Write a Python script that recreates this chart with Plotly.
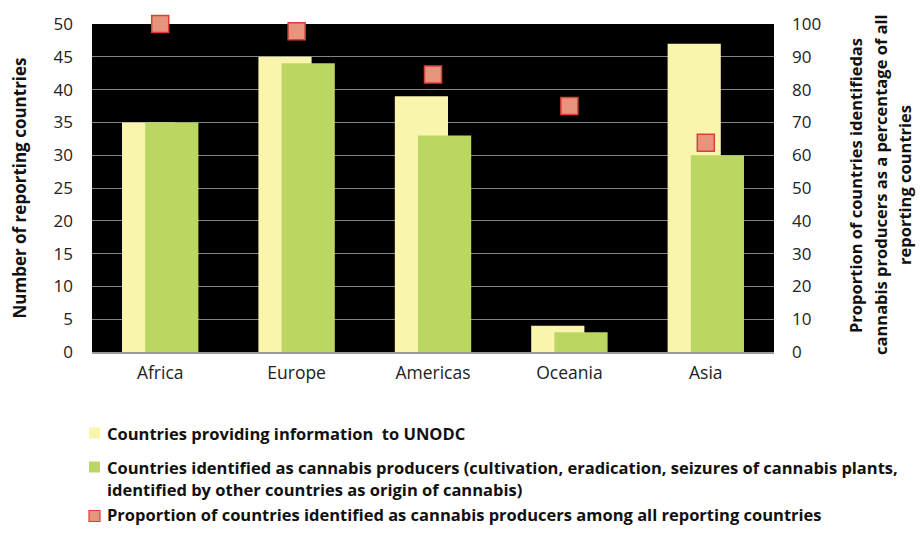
import plotly.graph_objects as go

regions = ["Africa", "Europe", "Americas", "Oceania", "Asia"]
reporting = [35, 45, 39, 4, 47]
producers = [35, 44, 33, 3, 30]
proportion = [100, 97.8, 84.6, 75, 63.8]

legend_labels = [
    ["Countries providing information  to UNODC"],
    ["Countries identified as cannabis producers (cultivation, eradication, seizures of cannabis plants,",
     "identified by other countries as origin of cannabis)"],
    ["Proportion of countries identified as cannabis producers among all reporting countries"],
]
right_title_lines = [
    "Proportion of countries identifiedas",
    "cannabis producers as a percentage of all",
    "reporting countries",
]

FONT = "Open Sans, Noto Sans, sans-serif"
YELLOW = "#F9F5AD"
GREEN = "#BBD662"
SALMON = "#E6957C"
RED = "#DB3E3B"

# the page body has an 8px margin; work in screenshot pixels and convert
OFF = 8
W, H = 924 - 2 * OFF, 536 - 2 * OFF
L, R, T, B = 92 - OFF, 774 - OFF, 24 - OFF, 352 - OFF


def px(x):
    return (x - OFF - L) / (R - L)


def py(y):
    return (B - (y - OFF)) / (B - T)


fig = go.Figure()
fig.add_trace(go.Bar(
    x=regions, y=reporting, name=legend_labels[0][0],
    marker=dict(color=YELLOW, line=dict(width=0)),
    width=0.39, offset=-0.28,
))
fig.add_trace(go.Bar(
    x=regions, y=producers, name=" ".join(legend_labels[1]),
    marker=dict(color=GREEN, line=dict(width=0)),
    width=0.39, offset=-0.11,
))
fig.add_trace(go.Scatter(
    x=regions, y=proportion, yaxis="y2", mode="markers",
    name=legend_labels[2][0],
    marker=dict(symbol="square", size=17, color=SALMON, line=dict(color=RED, width=1.5)),
    cliponaxis=False,
))

annotations = []
shapes = []

# manual legend (positions in screenshot pixels)
legend_rows = [
    (433, YELLOW, None, [433]),
    (467, GREEN, None, [467, 489]),
    (516, SALMON, RED, [514]),
]
for (cy, fill, border, line_ys), labels in zip(legend_rows, legend_labels):
    shapes.append(dict(
        type="rect", xref="paper", yref="paper",
        x0=px(89), x1=px(100), y0=py(cy - 5.5), y1=py(cy + 5.5),
        fillcolor=fill, line=dict(color=border if border else fill, width=1.2 if border else 0),
    ))
    for ly, txt in zip(line_ys, labels):
        annotations.append(dict(
            text="<b>" + txt + "</b>", xref="paper", yref="paper",
            x=px(105), y=py(ly), xanchor="left", yanchor="middle",
            showarrow=False, font=dict(family=FONT, size=16.5, color="#111"),
        ))

# right axis title (three lines)
for cx, txt in zip([855, 880, 904], right_title_lines):
    annotations.append(dict(
        text="<b>" + txt + "</b>", xref="paper", yref="paper",
        x=px(cx), y=py(185), xanchor="center", yanchor="middle", textangle=-90,
        showarrow=False, font=dict(family=FONT, size=16.5, color="#111"),
    ))

fig.update_layout(
    width=W, height=H,
    margin=dict(l=L, r=W - R, t=T, b=H - B, autoexpand=False),
    paper_bgcolor="white", plot_bgcolor="black",
    barmode="overlay",
    showlegend=False,
    font=dict(family=FONT, size=17, color="#222"),
    xaxis=dict(showgrid=False, showline=True, linecolor="#9a9a9a", linewidth=1.5,
               ticks="", tickfont=dict(size=17.5), ticklabelstandoff=4),
    yaxis=dict(range=[0, 50], dtick=5, showgrid=True, gridcolor="#858585", gridwidth=1,
               zeroline=False, ticks="", tickfont=dict(size=17), ticklabelstandoff=18,
               title=dict(text="<b>Number of reporting countries</b>",
                          font=dict(size=17, color="#111"), standoff=24)),
    yaxis2=dict(range=[0, 100], dtick=10, overlaying="y", side="right", showgrid=False,
                zeroline=False, ticks="", tickfont=dict(size=17), ticklabelstandoff=17),
    annotations=annotations,
    shapes=shapes,
)

fig.write_html("out.html")
